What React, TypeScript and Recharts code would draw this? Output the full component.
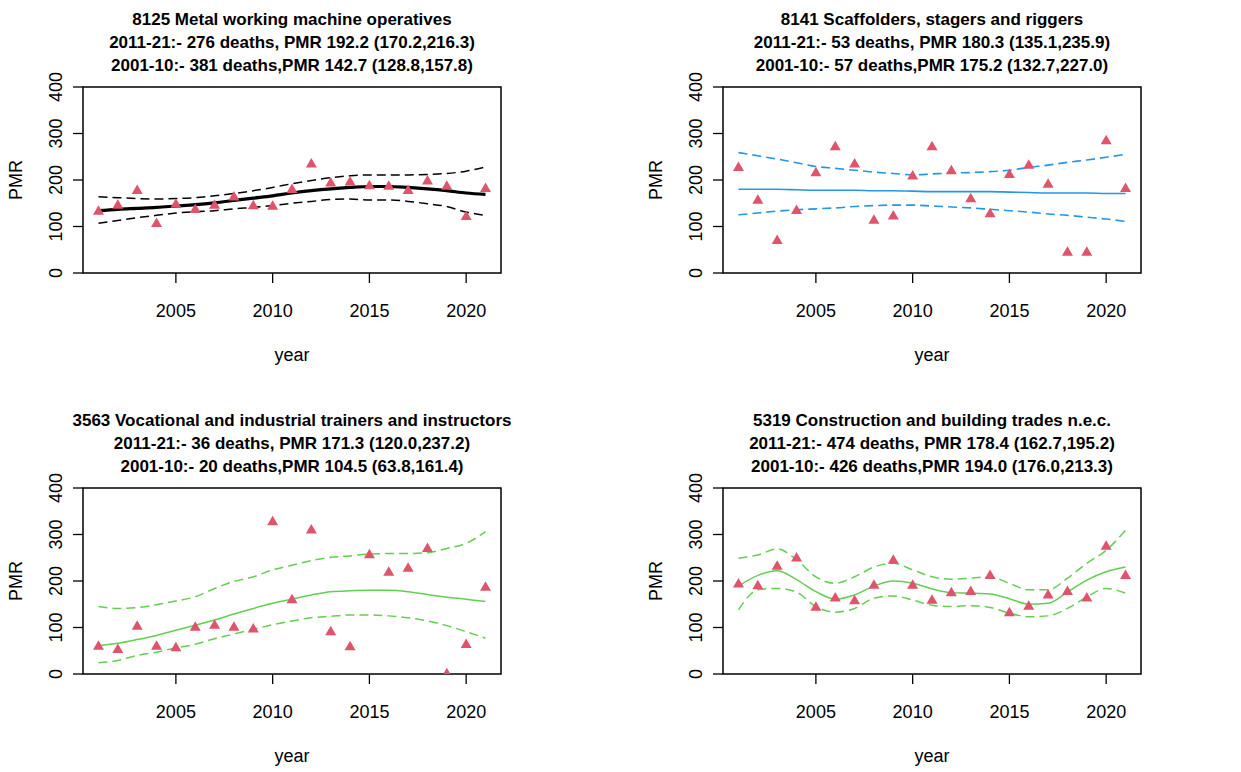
import React from "react";
import { ComposedChart, Line, Scatter, XAxis, YAxis, ReferenceArea } from "recharts";

const years = [2001, 2002, 2003, 2004, 2005, 2006, 2007, 2008, 2009, 2010, 2011, 2012, 2013, 2014, 2015, 2016, 2017, 2018, 2019, 2020, 2021];
const xTicks = [2005, 2010, 2015, 2020];
const yTicks = [0, 100, 200, 300, 400];

// 8125 Metal working machine operatives
const metalPmr = [132, 145, 177, 106, 147, 136, 145, 163, 144, 143, 179, 234, 193, 195, 187, 186, 177, 197, 186, 121, 181];
const metalFit = [134, 137, 139, 141, 144, 147, 151, 156, 161, 166, 172, 177, 181, 184, 186, 186, 184, 181, 177, 172, 169];
const metalUpper = [164, 162, 160, 159, 160, 162, 166, 171, 177, 184, 192, 199, 205, 209, 211, 211, 211, 212, 214, 219, 228];
const metalLower = [107, 113, 119, 124, 129, 132, 134, 138, 141, 145, 150, 154, 158, 159, 157, 157, 154, 149, 143, 131, 124];

// 8141 Scaffolders, stagers and riggers
const scaffPmr = [226, 156, 69, 134, 215, 271, 234, 113, 122, 208, 271, 219, 159, 127, 211, 231, 190, 44, 44, 284, 181];
const scaffFit = [180, 180, 180, 179, 178, 178, 178, 177, 177, 176, 175, 175, 175, 175, 174, 173, 172, 172, 172, 171, 171];
const scaffUpper = [259, 252, 245, 237, 229, 225, 221, 217, 214, 211, 213, 215, 216, 218, 221, 227, 232, 238, 243, 249, 255];
const scaffLower = [125, 129, 133, 136, 138, 140, 143, 145, 146, 146, 144, 142, 140, 137, 134, 131, 127, 124, 120, 116, 111];

// 3563 Vocational and industrial trainers and instructors
const trainerPmr = [59, 52, 102, 59, 56, 100, 104, 100, 96, 327, 159, 309, 90, 58, 256, 218, 227, 269, 0, 63, 186];
const trainerFit = [61, 66, 74, 83, 94, 105, 116, 129, 141, 152, 161, 170, 177, 179, 180, 180, 177, 171, 165, 161, 156];
const trainerUpper = [145, 141, 143, 149, 157, 166, 184, 199, 209, 224, 234, 244, 251, 254, 258, 259, 259, 261, 270, 281, 306];
const trainerLower = [24, 29, 40, 47, 56, 64, 76, 86, 96, 106, 114, 121, 124, 127, 127, 125, 121, 114, 104, 91, 77];

// 5319 Construction and building trades n.e.c.
const constructionPmr = [193, 189, 231, 249, 143, 163, 157, 190, 244, 190, 158, 174, 177, 211, 131, 145, 169, 177, 163, 274, 211];
const constructionFit = [189, 212, 222, 203, 177, 161, 170, 189, 200, 195, 183, 175, 174, 172, 162, 150, 152, 176, 202, 220, 230];
const constructionUpper = [249, 256, 269, 246, 209, 195, 209, 230, 238, 224, 209, 204, 206, 209, 195, 181, 181, 206, 238, 266, 309];
const constructionLower = [138, 181, 184, 176, 145, 133, 141, 163, 168, 159, 148, 145, 147, 143, 131, 123, 125, 141, 166, 184, 174];

const W = 620;
const H = 372;
const PLOT_LEFT = 83;
const PLOT_RIGHT = 501;
const PLOT_TOP = 87;
const PLOT_BOTTOM = 273;
const FONT = "'Liberation Sans', Arial, sans-serif";

const RED = "#DF536B";
const GREEN = "#61D04F";
const BLUE = "#2297E6";

// filled triangle (pch 17), cut off at the bottom edge of the plot box
const Triangle = (props: any) => {
  const { cx, cy } = props;
  if (cx == null || cy == null) return null;
  const top = cy - 6.3;
  const base = cy + 3.2;
  const half = 5.5;
  if (base <= PLOT_BOTTOM) {
    return <polygon points={`${cx},${top} ${cx + half},${base} ${cx - half},${base}`} fill={RED} />;
  }
  const cut = Math.max(top, PLOT_BOTTOM);
  const w = (half * (cut - top)) / (base - top);
  return <polygon points={`${cx},${top} ${cx + w},${cut} ${cx - w},${cut}`} fill={RED} />;
};

const XTick = (props: any) => {
  const { x, payload } = props;
  return (
    <text x={x} y={317} textAnchor="middle" fontSize={18} fontFamily={FONT} fill="#000">
      {payload.value}
    </text>
  );
};

const YTick = (props: any) => {
  const { y, payload } = props;
  return (
    <text x={62} y={y} transform={`rotate(-90, 62, ${y})`} textAnchor="middle" fontSize={18} fontFamily={FONT} fill="#000">
      {payload.value}
    </text>
  );
};

interface PanelProps {
  left: number;
  top: number;
  title: string[];
  pmr: number[];
  fit: number[];
  upper: number[];
  lower: number[];
  color: string;
  fitWidth: number;
  bandWidth: number;
}

function Panel({ left, top, title, pmr, fit, upper, lower, color, fitWidth, bandWidth }: PanelProps) {
  const data = years.map((year, i) => ({
    year,
    pmr: pmr[i],
    fit: fit[i],
    upper: upper[i],
    lower: lower[i],
  }));
  const cx = (PLOT_LEFT + PLOT_RIGHT) / 2;
  const cy = (PLOT_TOP + PLOT_BOTTOM) / 2;

  return (
    <div style={{ position: "absolute", left, top, width: W, height: H }}>
      <ComposedChart
        width={W}
        height={H}
        data={data}
        margin={{ top: PLOT_TOP, right: W - PLOT_RIGHT, bottom: 0, left: 0 }}
      >
        <XAxis
          dataKey="year"
          type="number"
          domain={[2000.2, 2021.8]}
          ticks={xTicks}
          axisLine={false}
          tickLine={{ stroke: "#000", strokeWidth: 1.3 }}
          tickSize={10}
          tick={<XTick />}
          height={H - PLOT_BOTTOM}
          allowDataOverflow
        />
        <YAxis
          type="number"
          domain={[0, 400]}
          ticks={yTicks}
          axisLine={false}
          tickLine={{ stroke: "#000", strokeWidth: 1.3 }}
          tickSize={10}
          tick={<YTick />}
          width={PLOT_LEFT}
          allowDataOverflow
        />
        <ReferenceArea x1={2000.2} x2={2021.8} y1={0} y2={400} fill="none" stroke="#000" strokeWidth={1.5} fillOpacity={0} />
        <Line dataKey="upper" type="monotone" stroke={color} strokeWidth={bandWidth} strokeDasharray="9 5" dot={false} activeDot={false} isAnimationActive={false} />
        <Line dataKey="lower" type="monotone" stroke={color} strokeWidth={bandWidth} strokeDasharray="9 5" dot={false} activeDot={false} isAnimationActive={false} />
        <Line dataKey="fit" type="monotone" stroke={color} strokeWidth={fitWidth} dot={false} activeDot={false} isAnimationActive={false} />
        <Scatter dataKey="pmr" shape={<Triangle />} isAnimationActive={false} />
      </ComposedChart>
      <svg width={W} height={H} style={{ position: "absolute", left: 0, top: 0, pointerEvents: "none" }}>
        {title.map((line, i) => (
          <text key={i} x={cx} y={25 + i * 23} textAnchor="middle" fontSize={17} fontWeight="bold" fontFamily={FONT} fill="#000">
            {line}
          </text>
        ))}
        <text x={cx} y={361} textAnchor="middle" fontSize={18} fontFamily={FONT} fill="#000">
          year
        </text>
        <text x={22} y={cy} transform={`rotate(-90, 22, ${cy})`} textAnchor="middle" fontSize={18} fontFamily={FONT} fill="#000">
          PMR
        </text>
      </svg>
    </div>
  );
}

export default function App() {
  return (
    <div style={{ position: "absolute", left: 0, top: 0, width: 1241, height: 772, background: "#fff", overflow: "hidden" }}>
      <Panel
        left={0}
        top={0}
        title={[
          "8125 Metal working machine operatives",
          "2011-21:- 276 deaths, PMR 192.2 (170.2,216.3)",
          "2001-10:- 381 deaths,PMR 142.7 (128.8,157.8)",
        ]}
        pmr={metalPmr}
        fit={metalFit}
        upper={metalUpper}
        lower={metalLower}
        color="#000"
        fitWidth={3.2}
        bandWidth={1.5}
      />
      <Panel
        left={640}
        top={0}
        title={[
          "8141 Scaffolders, stagers and riggers",
          "2011-21:- 53 deaths, PMR 180.3 (135.1,235.9)",
          "2001-10:- 57 deaths,PMR 175.2 (132.7,227.0)",
        ]}
        pmr={scaffPmr}
        fit={scaffFit}
        upper={scaffUpper}
        lower={scaffLower}
        color={BLUE}
        fitWidth={1.6}
        bandWidth={1.6}
      />
      <Panel
        left={0}
        top={401}
        title={[
          "3563 Vocational and industrial trainers and instructors",
          "2011-21:- 36 deaths, PMR 171.3 (120.0,237.2)",
          "2001-10:- 20 deaths,PMR 104.5 (63.8,161.4)",
        ]}
        pmr={trainerPmr}
        fit={trainerFit}
        upper={trainerUpper}
        lower={trainerLower}
        color={GREEN}
        fitWidth={1.5}
        bandWidth={1.5}
      />
      <Panel
        left={640}
        top={401}
        title={[
          "5319 Construction and building trades n.e.c.",
          "2011-21:- 474 deaths, PMR 178.4 (162.7,195.2)",
          "2001-10:- 426 deaths,PMR 194.0 (176.0,213.3)",
        ]}
        pmr={constructionPmr}
        fit={constructionFit}
        upper={constructionUpper}
        lower={constructionLower}
        color={GREEN}
        fitWidth={1.5}
        bandWidth={1.5}
      />
    </div>
  );
}
